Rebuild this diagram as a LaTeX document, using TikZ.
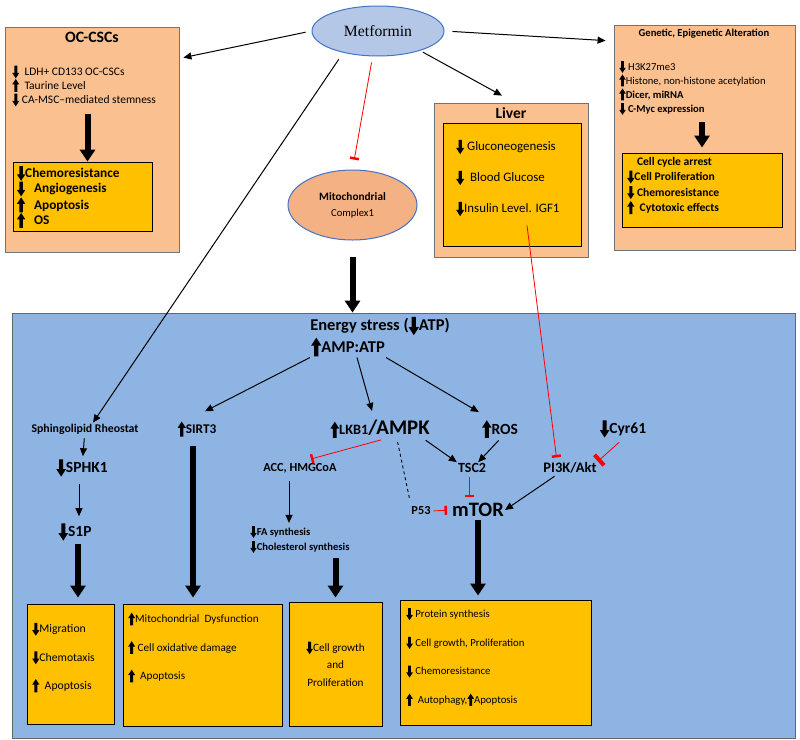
\documentclass[tikz,border=0pt]{standalone}
\usepackage{fontspec}
\setmainfont{Carlito}
\newfontfamily\serifmet{Liberation Serif}
\usetikzlibrary{arrows.meta,shapes.geometric}
\definecolor{peach}{HTML}{FAC090}
\definecolor{gold}{HTML}{FFC000}
\definecolor{panelblue}{HTML}{8EB4E3}
\definecolor{metblue}{HTML}{B4C7E7}
\definecolor{rimblue}{HTML}{4472C4}
\definecolor{salmon}{HTML}{F4B183}
\newcommand{\fsz}[2]{\fontsize{#1}{#2}\selectfont}
\newcommand{\dnarr}{\tikz[x=0.1em,y=0.1em,baseline=0pt]\fill (-1.3,8.5)--(1.3,8.5)--(1.3,2.2)--(3.1,2.2)--(0,-2.6)--(-3.1,2.2)--(-1.3,2.2)--cycle;}
\newcommand{\uparr}{\tikz[x=0.1em,y=0.1em,baseline=0pt]\fill (-1.3,-2.2)--(1.3,-2.2)--(1.3,4.3)--(3.1,4.3)--(0,9.1)--(-3.1,4.3)--(-1.3,4.3)--cycle;}

\begin{document}
\begin{tikzpicture}[x=1pt,y=-1pt,
    peachbox/.style={draw=black!55,fill=peach,line width=0.8pt,inner sep=0pt},
    yellowbox/.style={draw=black,fill=gold,line width=1pt},
    lbl/.style={inner sep=1pt,font=\bfseries\fsz{#1}{#1}},
    lbl/.default=12,
    arr/.style={-{Triangle[width=7pt,length=8pt]},line width=1pt},
    bigarr/.style={-{Triangle[width=15pt,length=12pt]},line width=6pt},
    inh/.style={red,line width=0.8pt,-{Bar[width=9pt,line width=2.5pt]}}]
    \useasboundingbox (0,0) rectangle (800,739);

    % metformin and the top boxes
    \node[ellipse,draw=rimblue,fill=metblue,line width=1pt,minimum width=132,minimum height=50,inner sep=0] (met) at (378,31) {\serifmet\fsz{15.7}{15.7}Metformin};

    \node[peachbox,minimum width=174,minimum height=225] (occ) at (92,139.5) {};
    \node[lbl=15.8] (occt) at (92,37) {OC-CSCs};
    \node[anchor=west,align=left,inner sep=1pt,font=\fsz{11.5}{14}] (occl) at (11,86)
        {\dnarr\ \ LDH+ CD133 OC-CSCs\\ \uparr\ \ Taurine Level\\ \dnarr\ CA-MSC–mediated stemness};
    \node[yellowbox,minimum width=139,minimum height=64,text width=131,inner sep=4pt,align=left,font=\bfseries\fsz{13.3}{15.5}] (occr) at (82.5,197)
        {\dnarr Chemoresistance\\ \dnarr\ \ Angiogenesis\\ \uparr\ \ Apoptosis\\ \uparr\ \ OS};

    \node[ellipse,draw=rimblue,fill=salmon,line width=1pt,minimum width=129,minimum height=70,inner sep=0,align=center] (mito) at (352.5,205)
        {{\bfseries\fsz{11.3}{11.3}Mitochondrial}\\[4pt]\fsz{10.6}{10.6}Complex1};

    \node[peachbox,minimum width=154,minimum height=154] (lvr) at (511,180) {};
    \node[lbl=15.5] (lvrt) at (511,113) {Liver};
    \node[yellowbox,minimum width=138,minimum height=123,inner sep=0] (lvri) at (512,184.5) {};
    \node[anchor=west,align=left,inner sep=1pt,font=\fsz{12.9}{31}] (lvrl) at (455,178)
        {\dnarr\ Gluconeogenesis\\ \dnarr\ \ Blood Glucose\\ \dnarr Insulin Level. IGF1};

    \node[peachbox,minimum width=181,minimum height=225] (gen) at (704.5,137.5) {};
    \node[lbl=10.6] (gent) at (704,34) {Genetic, Epigenetic Alteration};
    \node[anchor=west,align=left,inner sep=1pt,font=\fsz{10.6}{14}] (genl) at (618,88)
        {\dnarr\ H3K27me3\\ \uparr Histone, non-histone acetylation\\ \textbf{\uparr Dicer, miRNA}\\ \textbf{\dnarr\ C-Myc expression}};
    \node[yellowbox,minimum width=160,minimum height=74] (genr) at (702,190) {};
    \node[anchor=west,align=left,inner sep=1pt,font=\bfseries\fsz{11.6}{15.5}] (genrl) at (626,185.5)
        {\hphantom{\dnarr}\ Cell cycle arrest\\ \dnarr Cell Proliferation\\ \dnarr\ Chemoresistance\\ \uparr\ \ Cytotoxic effects};

    % blue panel
    \node[fill=panelblue,draw=black!60,line width=0.8pt,minimum width=783,minimum height=425,inner sep=0] (panel) at (403.5,525.5) {};

    \node[lbl=16.5] (es) at (380,326) {Energy stress (\dnarr ATP)};
    \node[lbl=16.5] (amp) at (348,347) {\uparr AMP:ATP};

    \node[lbl=11.8] (sph) at (85,429) {Sphingolipid Rheostat};
    \node[lbl=15.5] (sphk) at (82,468) {\dnarr SPHK1};
    \node[lbl=15.5] (s1p) at (75,532) {\dnarr S1P};
    \node[lbl=13.3] (sirt) at (197,429) {\uparr SIRT3};
    \node[inner sep=1pt,font=\bfseries] (lkb) at (380,429) {{\fsz{14.3}{14.3}\uparr LKB1}{\fsz{20.8}{20.8}/AMPK}};
    \node[lbl=15.5] (ros) at (500,429) {\uparr ROS};
    \node[lbl=15.5] (cyr) at (623,429) {\dnarr Cyr61};
    \node[lbl=12.3] (acc) at (300,468) {ACC, HMGCoA};
    \node[lbl=14] (tsc) at (472,468) {TSC2};
    \node[lbl=14.5] (pik) at (570,468) {PI3K/Akt};
    \node[anchor=west,align=left,inner sep=1pt,font=\bfseries\fsz{10.6}{15}] (fa) at (249,539.5)
        {\dnarr FA synthesis\\ \dnarr Cholesterol synthesis};
    \node[lbl=12.3] (p53) at (421,511) {P53};
    \node[lbl=20.5] (mtor) at (478,510) {mTOR};

    % result boxes
    \node[yellowbox,minimum width=87,minimum height=120] (res1) at (70.5,664) {};
    \node[anchor=west,align=left,inner sep=1pt,font=\fsz{11.7}{28.5}] (res1l) at (31,657.5)
        {\dnarr Migration\\ \dnarr Chemotaxis\\ \uparr\ \ Apoptosis};
    \node[yellowbox,minimum width=159,minimum height=122] (res2) at (202.5,665) {};
    \node[anchor=west,align=left,inner sep=1pt,font=\fsz{11.2}{28.5}] (res2l) at (127,647.5)
        {\uparr Mitochondrial\ \ Dysfunction\\ \uparr\ Cell oxidative damage\\ \uparr\ \ Apoptosis};
    \node[yellowbox,minimum width=93,minimum height=124,align=center,font=\fsz{11.2}{17.5}] (res3) at (335.5,664)
        {\dnarr Cell growth\\ and\\ Proliferation};
    \node[yellowbox,minimum width=191,minimum height=125] (res4) at (495.5,662.5) {};
    \node[anchor=west,align=left,inner sep=1pt,font=\fsz{10.8}{28.7}] (res4l) at (405,657)
        {\dnarr\ Protein synthesis\\ \dnarr\ Cell growth, Proliferation\\ \dnarr\ Chemoresistance\\ \uparr\ \ Autophagy,\uparr Apoptosis};

    % connectors
    \draw[arr,shorten <=6pt] (met.west) -- ([shift={(4,31)}]occ.north east);
    \draw[arr,shorten <=8pt] (met.east) -- ([shift={(-8,16)}]gen.north west);
    \draw[arr,shorten <=3pt] (met.-25) -- ([shift={(-9,-7)}]lvr.north);
    \draw[arr,shorten <=8pt] (met.212) -- ([xshift=8]sph.north);
    \draw[inh,shorten <=6pt,shorten >=10pt] (met.258) -- (mito.north);
    \draw[bigarr,shorten <=16pt] (mito.south) -- (mito.south |- panel.north);
    \draw[bigarr,shorten <=6pt] ([xshift=5]occl.south -| occr.north) -- ([xshift=5]occr.north);
    \draw[bigarr,shorten <=6pt,shorten >=5pt] (genl.south -| genr.north) -- (genr.north);
    \draw[inh,shorten >=4pt] ([shift={(15,-21)}]lvri.south) -- ([xshift=-13]pik.north);

    \draw[arr] (amp.south west) -- ([shift={(8,-9)}]sirt.north);
    \draw[arr] ([xshift=9]amp.south) -- ([shift={(-8,-8)}]lkb.north);
    \draw[arr] (amp.south east) -- ([shift={(-2,-7)}]ros.north west);

    \draw[arr,shorten <=3pt,shorten >=2pt] (sph) -- (sphk);
    \draw[arr,shorten <=6pt,shorten >=6pt] ([xshift=-3]sphk.south) -- ([xshift=4]s1p.north);
    \draw[bigarr,shorten <=2pt,shorten >=6pt] ([xshift=3]s1p.south) -- ([xshift=3]s1p.south |- res1.north);
    \draw[bigarr,shorten <=8pt,shorten >=6pt] ([xshift=-4]sirt.south) -- ([xshift=-4]sirt.south |- res2.north);

    \draw[inh,shorten <=3pt] ([xshift=4]lkb.south) -- ([shift={(11,-3)}]acc.north);
    \draw[arr,shorten <=7pt,shorten >=2pt] ([xshift=-11]acc.south) -- ([xshift=-11]acc.south |- fa.north);
    \draw[bigarr,shorten <=4pt,shorten >=4pt] (res3.north |- fa.south) -- (res3.north);
    \draw[dashed,line width=0.9pt,shorten <=3pt,shorten >=6pt] ([xshift=17]lkb.south) -- ([xshift=-10]p53.north);
    \draw[arr,shorten <=2pt] ([xshift=44]lkb.south) -- (tsc.north west);
    \draw[arr,shorten <=2pt] (ros.south) -- ([xshift=-9]tsc.north east);
    \draw[red,line width=0.8pt,-{Bar[width=14pt,line width=4pt]},shorten <=5pt] (cyr.south) -- (pik.north east);
    \draw[inh,shorten <=3pt,shorten >=5pt] ([xshift=-3]tsc.south) -- ([xshift=-3]tsc.south |- mtor.north);
    \draw[inh,shorten <=2pt,shorten >=4pt] (p53.east) -- (mtor.west);
    \draw[arr,shorten <=3pt] ([xshift=-13]pik.south) -- (mtor.east);
    \draw[bigarr,shorten <=2pt,shorten >=4pt] (mtor.south) -- (mtor.south |- res4.north);
\end{tikzpicture}
\end{document}
